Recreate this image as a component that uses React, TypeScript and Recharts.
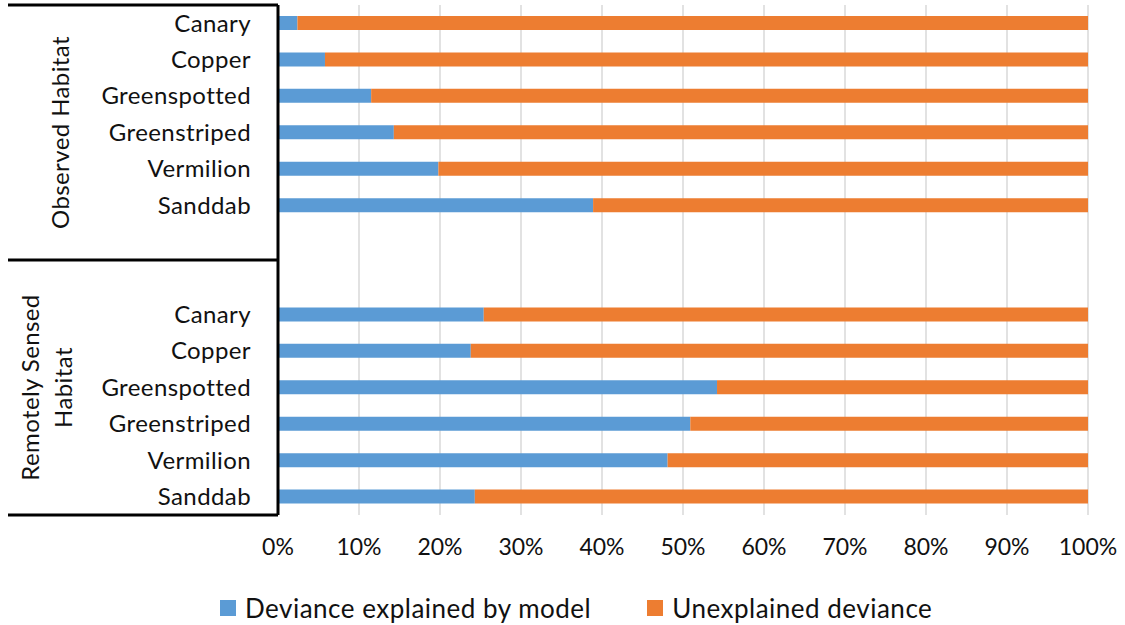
import { BarChart, Bar, XAxis, YAxis, CartesianGrid, Legend } from 'recharts';

const FONT = 'Lato, "Open Sans", sans-serif';
const BLUE = '#5b9bd5';
const ORANGE = '#ed7d31';
const INK = '#111';
const AXIS_W = 278;

const species = ['Canary', 'Copper', 'Greenspotted', 'Greenstriped', 'Vermilion', 'Sanddab'];
const groups = ['Observed Habitat', 'Remotely Sensed Habitat'];
const observedExplained = [2.4, 5.8, 11.5, 14.3, 19.8, 38.9];
const remoteExplained = [25.4, 23.8, 54.2, 50.9, 48.1, 24.3];
const xTicks = [0, 10, 20, 30, 40, 50, 60, 70, 80, 90, 100];
const seriesNames = ['Deviance explained by model', 'Unexplained deviance'];

interface Row {
  key: string;
  label: string;
  explained: number | null;
  unexplained: number | null;
}

const toRows = (prefix: string, values: number[]): Row[] =>
  species.map((s, i) => ({
    key: `${prefix}-${s}`,
    label: s,
    explained: values[i],
    unexplained: 100 - values[i],
  }));

const blank = (key: string): Row => ({ key, label: '', explained: null, unexplained: null });

const data: Row[] = [
  ...toRows('obs', observedExplained),
  blank('obs-gap'),
  blank('rs-gap'),
  ...toRows('rs', remoteExplained),
];

const labelStyle = { fontFamily: FONT, fontSize: 24, fill: INK, letterSpacing: 0.4 };

// category label plus the bracket lines / group titles on the left
function CategoryTick(props: any) {
  const { y, payload } = props;
  const i = data.findIndex((r) => r.key === payload.value);
  const row = data[i];
  const half = payload.offset ?? 18;
  const line = (yy: number) => (
    <line x1={8} x2={AXIS_W} y1={yy} y2={yy} stroke="#000" strokeWidth={3} />
  );
  return (
    <g>
      <text x={251} y={y} dy="0.35em" textAnchor="end" style={labelStyle}>
        {row ? row.label : ''}
      </text>
      {i === 0 && line(y - half)}
      {i === 6 && line(y + half)}
      {i === data.length - 1 && line(y + half)}
      {i === 3 && (
        <text transform={`translate(61, ${y}) rotate(-90)`} textAnchor="middle" dy="0.35em" style={labelStyle}>
          {groups[0]}
        </text>
      )}
      {i === 10 && (
        <text transform={`translate(47, ${y}) rotate(-90)`} textAnchor="middle" style={labelStyle}>
          <tspan x={0} dy="-0.35em">Remotely Sensed</tspan>
          <tspan x={0} dy="1.4em">Habitat</tspan>
        </text>
      )}
    </g>
  );
}

function renderLegend() {
  const colors = [BLUE, ORANGE];
  return (
    <div
      style={{
        display: 'flex',
        alignItems: 'center',
        paddingLeft: 220,
        marginTop: 7,
        fontFamily: FONT,
        fontSize: 26,
        letterSpacing: 0.5,
        color: INK,
        gap: 56,
      }}
    >
      {seriesNames.map((name, idx) => (
        <div key={name} style={{ display: 'flex', alignItems: 'center' }}>
          <span style={{ width: 16, height: 16, background: colors[idx], marginRight: 9 }} />
          <span>{name}</span>
        </div>
      ))}
    </div>
  );
}

export default function App() {
  return (
    <div style={{ position: 'absolute', left: 0, top: 0, background: '#fff' }}>
      <BarChart
        width={1125}
        height={625}
        data={data}
        layout="vertical"
        barSize={14}
        margin={{ top: 5, right: 37, bottom: 0, left: 0 }}
      >
        <CartesianGrid horizontal={false} stroke="#d9d9d9" strokeWidth={1.5} />
        <XAxis
          type="number"
          domain={[0, 100]}
          ticks={xTicks}
          tickFormatter={(v: number) => `${v}%`}
          axisLine={false}
          tickLine={false}
          tickSize={0}
          tickMargin={24}
          height={70}
          tick={{ fontFamily: FONT, fontSize: 23, fill: INK }}
        />
        <YAxis
          type="category"
          dataKey="key"
          width={AXIS_W}
          interval={0}
          tickLine={false}
          tickSize={0}
          axisLine={{ stroke: '#000', strokeWidth: 3 }}
          tick={<CategoryTick />}
        />
        <Legend verticalAlign="bottom" height={40} content={renderLegend} wrapperStyle={{ left: 0, width: 1125 }} />
        <Bar dataKey="explained" name={seriesNames[0]} stackId="a" fill={BLUE} isAnimationActive={false} />
        <Bar dataKey="unexplained" name={seriesNames[1]} stackId="a" fill={ORANGE} isAnimationActive={false} />
      </BarChart>
    </div>
  );
}
